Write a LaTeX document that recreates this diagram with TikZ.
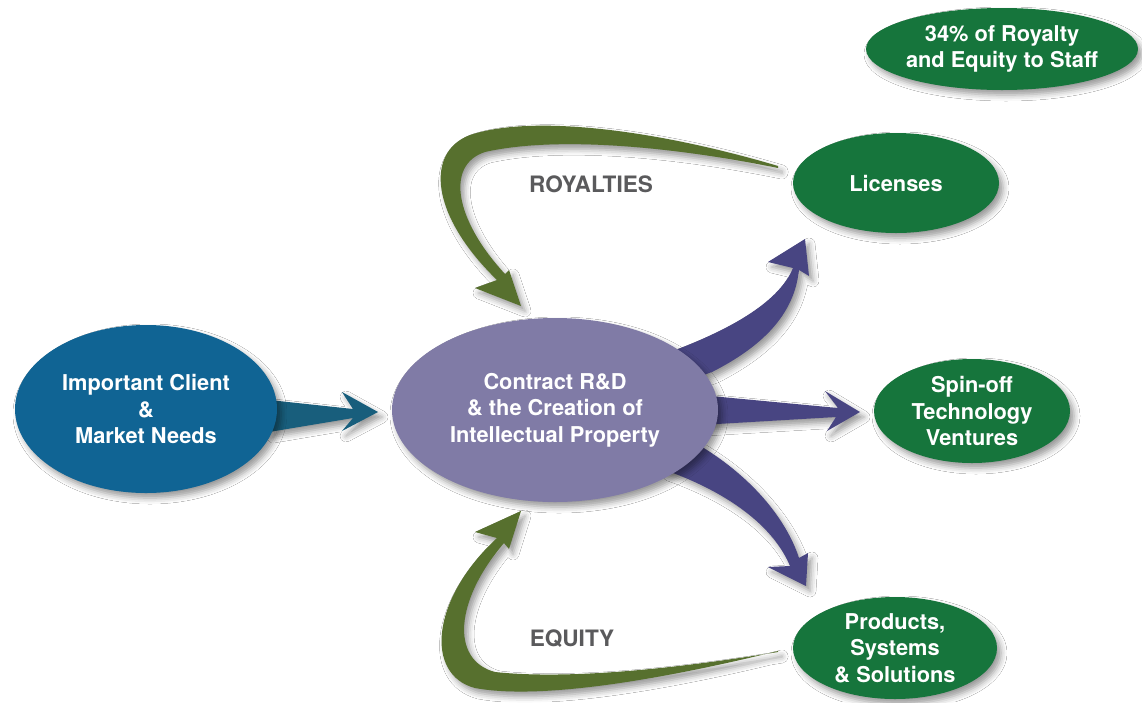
\documentclass[tikz,border=0pt]{standalone}
\usepackage{tikz}
\usetikzlibrary{calc}
\usetikzlibrary{shapes.geometric,backgrounds,shadows.blur}
\usepackage{fontspec}
\setmainfont{TeX Gyre Heros}
\definecolor{clientblue}{RGB}{16,100,148}
\definecolor{clientarrow}{RGB}{24,94,124}
\definecolor{hubpurple}{RGB}{128,123,166}
\definecolor{hubarrow}{RGB}{72,69,130}
\definecolor{leafgreen}{RGB}{22,117,60}
\definecolor{olive}{RGB}{87,112,46}
\definecolor{labelgray}{RGB}{90,90,92}
\newcommand{\bigfont}{\bfseries\fontsize{21.8}{26.5}\selectfont}
\newcommand{\flowfont}{\bfseries\fontsize{22.6}{27}\selectfont}

\tikzset{
  softshadow/.style={blur shadow={shadow xshift=4pt, shadow yshift=-5pt,
      shadow blur radius=6pt, shadow opacity=40}},
  oval/.style={ellipse, inner sep=0pt, text=white, font=\bigfont,
      align=center, softshadow},
  flowlabel/.style={text=labelgray, font=\flowfont, anchor=base},
  fat/.style={fill=#1, softshadow},
}

\begin{document}
\begin{tikzpicture}[x=1pt,y=-1pt]
        \useasboundingbox (0,0) rectangle (1142,702);
        \node[oval, fill=clientblue, minimum width=262pt, minimum height=168pt] (cl) at (146,409)
          {Important Client\\\&\\Market Needs};
        \node[oval, fill=hubpurple, minimum width=326pt, minimum height=184pt] (rd) at (555,410)
          {Contract R\&D\\\& the Creation of\\Intellectual Property};
        \node[oval, fill=leafgreen, minimum width=272pt, minimum height=82pt] (staff) at (1002,49)
          {34\% of Royalty\\and Equity to Staff};
        \node[oval, fill=leafgreen, minimum width=206pt, minimum height=100pt] (lic) at (896,183)
          {Licenses};
        \node[oval, fill=leafgreen, minimum width=196pt, minimum height=104pt] (spin) at (972,411)
          {Spin-off\\Technology\\Ventures};
        \node[oval, fill=leafgreen, minimum width=204pt, minimum height=102pt] (prod) at (895,648)
          {Products,\\Systems\\\& Solutions};
        \node[flowlabel] (roy) at (591,192) {ROYALTIES};
        \node[flowlabel] (eq) at (572,646) {EQUITY};

        \coordinate (rdIn) at (378,412);
        \coordinate (licTip) at (805,239);
        \coordinate (spinTip) at (860,412);
        \coordinate (prodTip) at (806,586);
        \coordinate (royTip) at (521,306);
        \coordinate (eqTip) at (521,511);

        \begin{scope}[on background layer]
        \fill[white] (0,0) rectangle (1142,702);
        % client needs into the hub
        \fill[fat=clientarrow] ($(cl.east)+(-8,-9)$) -- (353,409) -- (342,392) -- (rdIn)
              -- (342,431) -- (353,418) -- ($(cl.east)+(-8,23)$) -- cycle;
        % hub out to the three results
        \fill[fat=hubarrow] (670,352) .. controls (735,328) and (780,300) .. (793,268)
              -- (768,262) -- (licTip) -- (809,276) -- (799,270)
              .. controls (795,305) and (775,340) .. (712,372) -- (690,380) -- cycle;
        \fill[fat=hubarrow] (700,395) -- (838,408) -- (825,391) -- (spinTip)
              -- (827,431) -- (836,417) -- (700,425) -- cycle;
        \fill[fat=hubarrow] (690,440) .. controls (745,470) and (785,515) .. (799,558)
              -- (808,553) -- (prodTip) -- (768,567) -- (790,566)
              .. controls (775,530) and (735,495) .. (665,470) -- cycle;
        % royalties and equity back to the hub
        \fill[fat=olive] (778,166) .. controls (650,128) and (530,115) .. (470,135)
              .. controls (425,152) and (430,215) .. (497,280) -- (475,288) -- (royTip)
              -- (509,270) -- (505,274) .. controls (455,220) and (445,165) .. (485,152)
              .. controls (560,135) and (680,148) .. (778,168) -- cycle;
        \fill[fat=olive] (778,651) .. controls (660,680) and (540,700) .. (475,688)
              .. controls (425,675) and (430,600) .. (497,538) -- (475,532) -- (eqTip)
              -- (509,549) -- (504,543) .. controls (455,600) and (450,660) .. (495,672)
              .. controls (570,680) and (680,668) .. (778,652) -- cycle;
        \end{scope}
\end{tikzpicture}
\end{document}
